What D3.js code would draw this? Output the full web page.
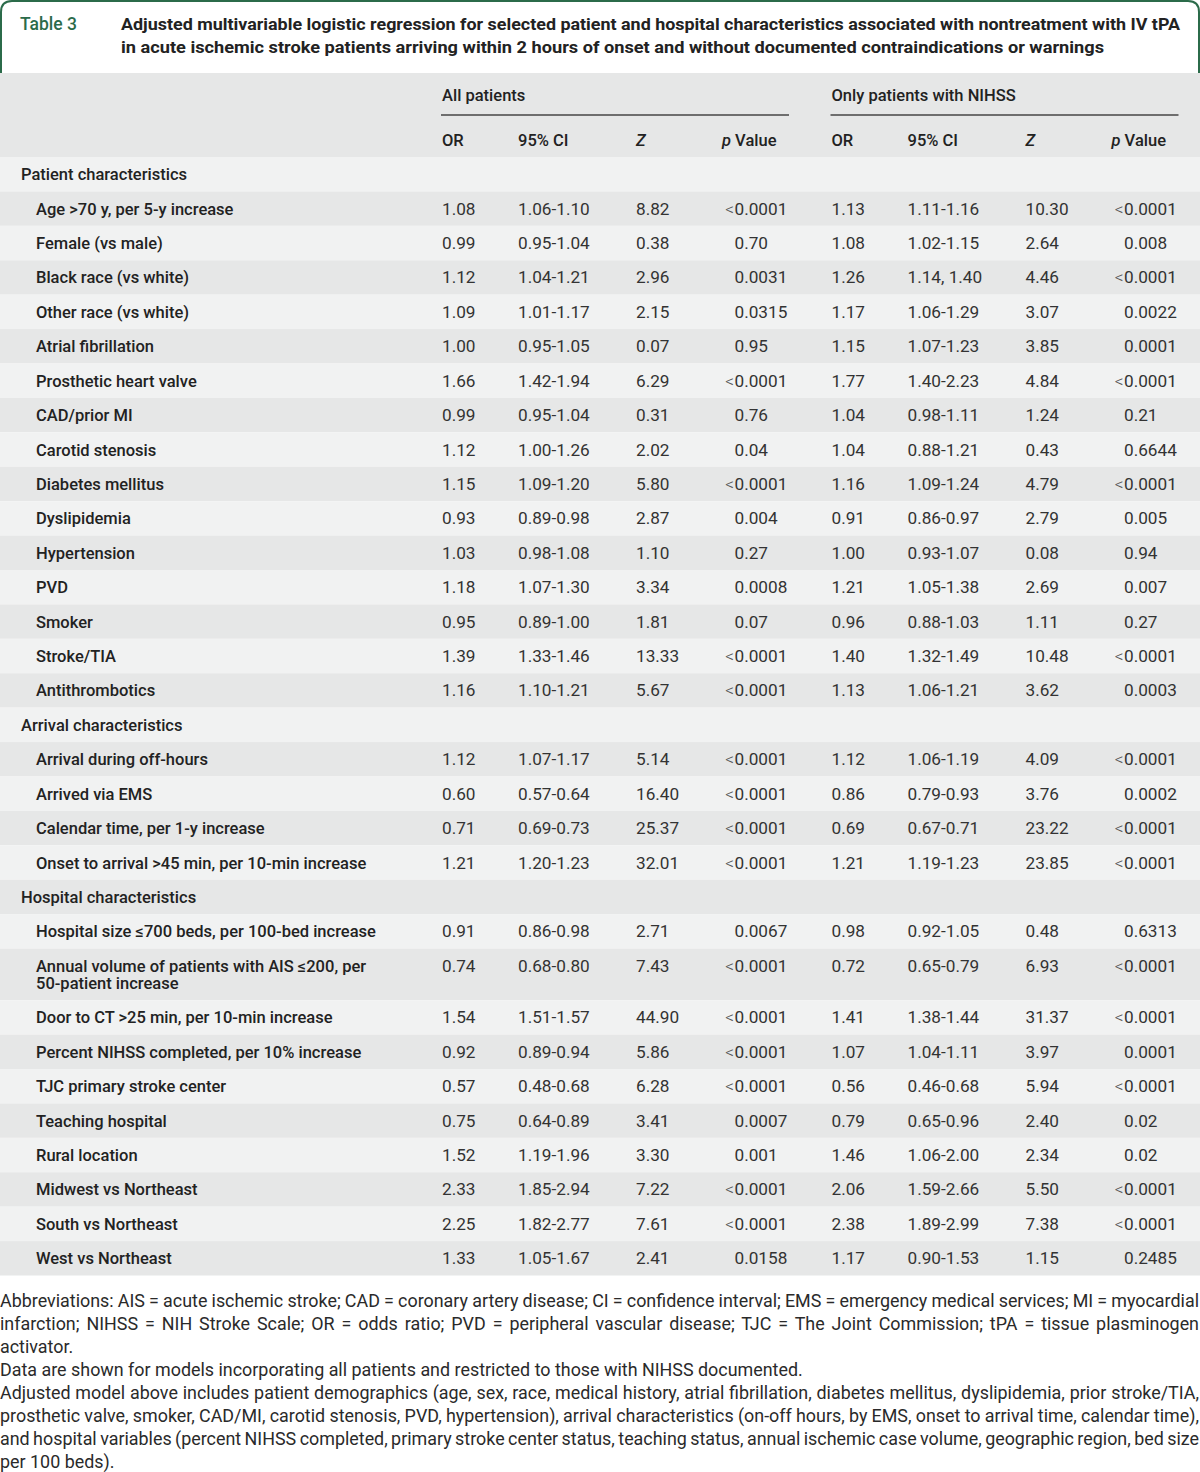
<!DOCTYPE html>
<html>
<head>
<meta charset="utf-8">
<script src="https://cdn.jsdelivr.net/npm/d3@7/dist/d3.min.js"></script>
<style>
  html, body { margin: 0; padding: 0; background: #fff; }
  svg { display: block; font-family: Roboto, "Noto Sans", Arial, sans-serif; }
</style>
</head>
<body>
<svg id="chart" width="1200" height="1472"></svg>
<script>
const sections = ["Patient characteristics", "Arrival characteristics", "Hospital characteristics"];

const patientItems = [
  "Age >70 y, per 5-y increase", "Female (vs male)", "Black race (vs white)", "Other race (vs white)",
  "Atrial fibrillation", "Prosthetic heart valve", "CAD/prior MI", "Carotid stenosis",
  "Diabetes mellitus", "Dyslipidemia", "Hypertension", "PVD", "Smoker", "Stroke/TIA", "Antithrombotics"
];
const arrivalItems = [
  "Arrival during off-hours", "Arrived via EMS", "Calendar time, per 1-y increase",
  "Onset to arrival >45 min, per 10-min increase"
];
const hospitalItems = [
  "Hospital size \u2264700 beds, per 100-bed increase",
  "Annual volume of patients with AIS \u2264200, per 50-patient increase",
  "Door to CT >25 min, per 10-min increase", "Percent NIHSS completed, per 10% increase",
  "TJC primary stroke center", "Teaching hospital", "Rural location",
  "Midwest vs Northeast", "South vs Northeast", "West vs Northeast"
];

const groupLabels = ["All patients", "Only patients with NIHSS"];
const columnLabels = ["OR", "95% CI", "Z", "p Value"];

// All patients
const orAll = ["1.08","0.99","1.12","1.09","1.00","1.66","0.99","1.12","1.15","0.93","1.03","1.18","0.95","1.39","1.16",
               "1.12","0.60","0.71","1.21",
               "0.91","0.74","1.54","0.92","0.57","0.75","1.52","2.33","2.25","1.33"];
const ciAll = ["1.06-1.10","0.95-1.04","1.04-1.21","1.01-1.17","0.95-1.05","1.42-1.94","0.95-1.04","1.00-1.26","1.09-1.20","0.89-0.98","0.98-1.08","1.07-1.30","0.89-1.00","1.33-1.46","1.10-1.21",
               "1.07-1.17","0.57-0.64","0.69-0.73","1.20-1.23",
               "0.86-0.98","0.68-0.80","1.51-1.57","0.89-0.94","0.48-0.68","0.64-0.89","1.19-1.96","1.85-2.94","1.82-2.77","1.05-1.67"];
const zAll = ["8.82","0.38","2.96","2.15","0.07","6.29","0.31","2.02","5.80","2.87","1.10","3.34","1.81","13.33","5.67",
              "5.14","16.40","25.37","32.01",
              "2.71","7.43","44.90","5.86","6.28","3.41","3.30","7.22","7.61","2.41"];
const pAll = ["<0.0001","0.70","0.0031","0.0315","0.95","<0.0001","0.76","0.04","<0.0001","0.004","0.27","0.0008","0.07","<0.0001","<0.0001",
              "<0.0001","<0.0001","<0.0001","<0.0001",
              "0.0067","<0.0001","<0.0001","<0.0001","<0.0001","0.0007","0.001","<0.0001","<0.0001","0.0158"];

// Only patients with NIHSS
const orNih = ["1.13","1.08","1.26","1.17","1.15","1.77","1.04","1.04","1.16","0.91","1.00","1.21","0.96","1.40","1.13",
               "1.12","0.86","0.69","1.21",
               "0.98","0.72","1.41","1.07","0.56","0.79","1.46","2.06","2.38","1.17"];
const ciNih = ["1.11-1.16","1.02-1.15","1.14, 1.40","1.06-1.29","1.07-1.23","1.40-2.23","0.98-1.11","0.88-1.21","1.09-1.24","0.86-0.97","0.93-1.07","1.05-1.38","0.88-1.03","1.32-1.49","1.06-1.21",
               "1.06-1.19","0.79-0.93","0.67-0.71","1.19-1.23",
               "0.92-1.05","0.65-0.79","1.38-1.44","1.04-1.11","0.46-0.68","0.65-0.96","1.06-2.00","1.59-2.66","1.89-2.99","0.90-1.53"];
const zNih = ["10.30","2.64","4.46","3.07","3.85","4.84","1.24","0.43","4.79","2.79","0.08","2.69","1.11","10.48","3.62",
              "4.09","3.76","23.22","23.85",
              "0.48","6.93","31.37","3.97","5.94","2.40","2.34","5.50","7.38","1.15"];
const pNih = ["<0.0001","0.008","<0.0001","0.0022","0.0001","<0.0001","0.21","0.6644","<0.0001","0.005","0.94","0.007","0.27","<0.0001","0.0003",
              "<0.0001","0.0002","<0.0001","<0.0001",
              "0.6313","<0.0001","<0.0001","0.0001","<0.0001","0.02","0.02","<0.0001","<0.0001","0.2485"];

const footLines = [
  { text: "Abbreviations: AIS = acute ischemic stroke; CAD = coronary artery disease; CI = confidence interval; EMS = emergency medical services; MI = myocardial", justify: true },
  { text: "infarction; NIHSS = NIH Stroke Scale; OR = odds ratio; PVD = peripheral vascular disease; TJC = The Joint Commission; tPA = tissue plasminogen", justify: true },
  { text: "activator.", justify: false },
  { text: "Data are shown for models incorporating all patients and restricted to those with NIHSS documented.", justify: false },
  { text: "Adjusted model above includes patient demographics (age, sex, race, medical history, atrial fibrillation, diabetes mellitus, dyslipidemia, prior stroke/TIA,", justify: true },
  { text: "prosthetic valve, smoker, CAD/MI, carotid stenosis, PVD, hypertension), arrival characteristics (on-off hours, by EMS, onset to arrival time, calendar time),", justify: true },
  { text: "and hospital variables (percent NIHSS completed, primary stroke center status, teaching status, annual ischemic case volume, geographic region, bed size", justify: true },
  { text: "per 100 beds).", justify: false }
];

(function () {
  const svg = d3.select("#chart");
  const W = 1200;
  const GREEN = "#2b6b4a";
  const DARK = "#e6e7e7", LIGHT = "#f1f2f2";

  // -----------------------------
  // Title box
  // -----------------------------
  svg.append("path")
    .attr("d", "M1,74 V12 Q1,1 12,1 H1188 Q1199,1 1199,12 V74")
    .attr("fill", "#fff")
    .attr("stroke", GREEN)
    .attr("stroke-width", 2);

  svg.append("text")
    .attr("x", 20).attr("y", 29.5)
    .attr("font-size", 17.5).attr("font-weight", 500)
    .attr("fill", GREEN)
    .text("Table 3");

  const titleLines = [
    { t: "Adjusted multivariable logistic regression for selected patient and hospital characteristics associated with nontreatment with IV tPA", w: 1059 },
    { t: "in acute ischemic stroke patients arriving within 2 hours of onset and without documented contraindications or warnings", w: 983 }
  ];
  titleLines.forEach((l, i) => {
    svg.append("text")
      .attr("x", 121).attr("y", 29.5 + i * 23.5)
      .attr("font-size", 17).attr("font-weight", 700)
      .attr("fill", "#222")
      .attr("textLength", l.w).attr("lengthAdjust", "spacingAndGlyphs")
      .text(l.t);
  });

  // -----------------------------
  // Rows: build list with sections + items
  // -----------------------------
  const rows = [];
  let k = 0;
  [patientItems, arrivalItems, hospitalItems].forEach((items, si) => {
    rows.push({ label: sections[si], section: true });
    items.forEach(lbl => {
      rows.push({
        label: lbl, section: false,
        all: [orAll[k], ciAll[k], zAll[k], pAll[k]],
        nih: [orNih[k], ciNih[k], zNih[k], pNih[k]]
      });
      k++;
    });
  });

  // wrap long labels (measure with a hidden text)
  const FS = 16.5;     // labels + headers
  const NFS = 17.2;    // numbers
  const measurer = svg.append("text")
    .attr("font-size", FS).attr("font-weight", 500)
    .attr("visibility", "hidden");
  const maxLabelW = 385;
  rows.forEach(r => {
    const words = r.label.split(" ");
    const lines = [];
    let cur = "";
    words.forEach(w => {
      const test = cur ? cur + " " + w : w;
      measurer.text(test);
      if (measurer.node().getComputedTextLength() > maxLabelW && cur) {
        lines.push(cur);
        cur = w;
      } else cur = test;
    });
    lines.push(cur);
    r.lines = lines;
    r.units = lines.length > 1 ? 1.5 : 1;
  });
  measurer.remove();

  let acc = 0;
  rows.forEach((r, i) => { r.u0 = acc; acc += r.units; r.i = i; });
  const totalUnits = acc;

  const tableTop = 157, tableBottom = 1275.5;
  const y = d3.scaleLinear().domain([0, totalUnits]).range([tableTop, tableBottom]);
  const unitH = y(1) - y(0);

  // columns
  const colX = d3.scaleOrdinal().domain(["or", "ci", "z", "p"]).range([442, 518, 636, 734.5]);
  const groupX = d3.scaleOrdinal().domain(["all", "nih"]).range([0, 389.5]);
  const colKeys = ["or", "ci", "z", "p"];

  // -----------------------------
  // Header band
  // -----------------------------
  svg.append("rect")
    .attr("x", 0).attr("y", 73).attr("width", W).attr("height", tableTop - 73)
    .attr("fill", DARK);

  ["all", "nih"].forEach((g, gi) => {
    const x0 = colX("or") + groupX(g);
    svg.append("text")
      .attr("x", x0).attr("y", 101)
      .attr("font-size", FS).attr("font-weight", 500)
      .attr("fill", "#222")
      .text(groupLabels[gi]);
    svg.append("line")
      .attr("x1", x0 - 1).attr("x2", x0 + 347)
      .attr("y1", 115).attr("y2", 115)
      .attr("stroke", "#6e6e6e").attr("stroke-width", 2);

    colKeys.forEach((c, ci) => {
      const t = svg.append("text")
        .attr("y", 146)
        .attr("font-size", FS).attr("font-weight", 500)
        .attr("fill", "#222");
      if (c === "p") {
        t.attr("x", colX("p") + groupX(g) + 42).attr("text-anchor", "end");
        t.append("tspan").attr("font-style", "italic").text("p");
        t.append("tspan").text(" Value");
      } else if (c === "z") {
        t.attr("x", colX(c) + groupX(g)).attr("font-style", "italic").text(columnLabels[ci]);
      } else {
        t.attr("x", colX(c) + groupX(g)).text(columnLabels[ci]);
      }
    });
  });

  // -----------------------------
  // Body rows
  // -----------------------------
  const body = svg.append("g");

  const rowG = body.selectAll("g.row")
    .data(rows)
    .enter()
    .append("g")
    .attr("class", "row");

  rowG.append("rect")
    .attr("x", 0).attr("width", W)
    .attr("y", d => y(d.u0))
    .attr("height", d => y(d.u0 + d.units) - y(d.u0))
    .attr("fill", d => d.i % 2 === 0 ? LIGHT : DARK);

  rowG.each(function (d) {
    const g = d3.select(this);
    const base = y(d.u0) + unitH / 2 + 6;
    const lt = g.append("text")
      .attr("x", d.section ? 21 : 36)
      .attr("y", base)
      .attr("font-size", FS).attr("font-weight", 500)
      .attr("fill", "#222");
    d.lines.forEach((ln, li) => {
      lt.append("tspan")
        .attr("x", d.section ? 21 : 36)
        .attr("y", base + li * 17.2)
        .text(ln);
    });

    if (d.section) return;
    [["all", d.all], ["nih", d.nih]].forEach(([gk, vals]) => {
      vals.forEach((v, ci) => {
        const c = colKeys[ci];
        const x = colX(c) + groupX(gk);
        if (c === "p" && v.startsWith("<")) {
          g.append("text")
            .attr("x", x - 0.5).attr("y", base)
            .attr("text-anchor", "end")
            .attr("font-size", NFS).attr("font-weight", 300)
            .attr("fill", "#555")
            .text("<");
          v = v.slice(1);
        }
        g.append("text")
          .attr("x", x).attr("y", base)
          .attr("font-size", NFS)
          .attr("fill", "#333")
          .text(v);
      });
    });
  });

  // -----------------------------
  // Footnotes
  // -----------------------------
  const foot = svg.append("g");
  footLines.forEach((l, i) => {
    const t = foot.append("text")
      .attr("x", 0).attr("y", 1306.5 + i * 23)
      .attr("font-size", 17.9)
      .attr("fill", "#2a2a2a")
      .text(l.text);
    if (l.justify) {
      const len = t.node().getComputedTextLength();
      const spaces = (l.text.match(/ /g) || []).length;
      if (spaces) t.attr("word-spacing", (W - 1 - len) / spaces);
    }
  });
})();
</script>
</body>
</html>
